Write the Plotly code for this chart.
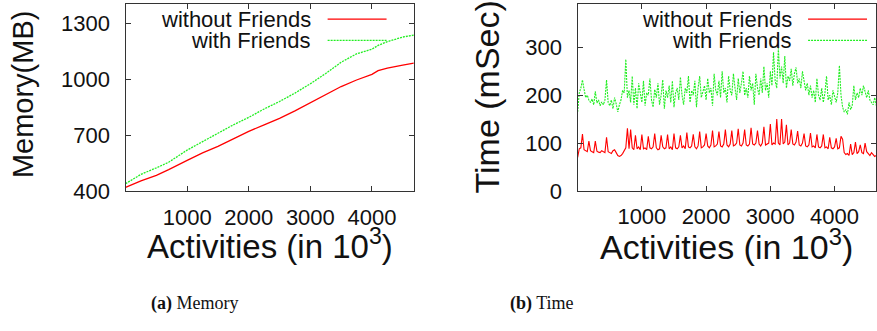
import plotly.graph_objects as go

W, H = 877, 331

# ---------------- data ----------------
mem_activities = [0, 250, 500, 700, 1000, 1250, 1500, 1750, 2000, 2250, 2500,
                  2750, 3000, 3250, 3500, 3750, 4000, 4100, 4250, 4500, 4680]
mem_without = [420, 455, 485, 515, 565, 605, 640, 680, 720, 755, 790,
               830, 872, 915, 960, 995, 1025, 1045, 1058, 1075, 1085]
mem_with = [440, 490, 525, 555, 620, 665, 710, 755, 795, 840, 880,
            925, 975, 1030, 1090, 1135, 1160, 1180, 1200, 1225, 1235]

time_step = 25
time_without = [
    70, 88, 90, 119, 86, 84, 82, 104,
    84, 82, 80, 104, 83, 81, 80, 84,
    82, 80, 112, 82, 80, 78, 84, 86,
    80, 74, 72, 74, 78, 84, 90, 131,
    88, 128, 90, 86, 116, 88, 92, 86,
    118, 88, 90, 86, 114, 90, 88, 92,
    120, 90, 86, 88, 116, 92, 88, 90,
    118, 88, 92, 86, 120, 90, 88, 92,
    116, 90, 94, 88, 122, 92, 90, 94,
    118, 92, 88, 94, 124, 90, 92, 96,
    120, 94, 90, 96, 126, 92, 94, 98,
    124, 94, 92, 98, 128, 96, 92, 98,
    126, 94, 96, 100, 130, 96, 94, 100,
    128, 96, 94, 98, 132, 98, 96, 100,
    126, 98, 94, 100, 134, 96, 98, 100,
    140, 96, 100, 98, 150, 100, 96, 150,
    98, 102, 138, 96, 100, 128, 98, 96,
    102, 125, 96, 94, 100, 120, 94, 92,
    96, 121, 92, 94, 90, 118, 92, 90,
    94, 118, 90, 92, 88, 112, 90, 88,
    92, 110, 88, 90, 114, 108, 80, 76,
    78, 74, 98, 76, 80, 102, 78, 82,
    96, 80, 78, 100, 82, 78, 74, 80,
    76, 72, 74,
]
time_with = [
    165, 205, 215, 232, 212, 195, 200, 190,
    185, 192, 180, 208, 184, 190, 178, 186,
    180, 190, 232, 185, 178, 190, 172, 195,
    182, 165, 180, 190, 210, 205, 275, 195,
    210, 185, 240, 180, 215, 172, 225, 200,
    185, 230, 178, 205, 200, 235, 190, 175,
    212, 195, 225, 180, 200, 232, 172, 210,
    195, 220, 185, 230, 175, 205, 215, 190,
    238, 200, 180, 215, 205, 240, 185, 210,
    200, 230, 175, 215, 240, 195, 210, 220,
    190, 235, 205, 215, 178, 245, 210, 200,
    230, 195, 250, 205, 215, 185, 240, 210,
    200, 245, 215, 190, 235, 205, 225, 250,
    200, 215, 195, 240, 210, 225, 180, 245,
    215, 200, 235, 205, 260, 210, 225, 195,
    250, 220, 290, 230, 215, 298, 235, 260,
    225, 282, 215, 240, 230, 255, 220, 245,
    258, 225, 235, 215, 250, 230, 210, 225,
    200, 220, 195, 210, 185, 235, 200, 190,
    215, 185, 205, 240, 190, 200, 180, 210,
    195, 185, 205, 262, 200, 175, 165, 170,
    160, 185, 170, 178, 220, 190, 205, 195,
    215, 200, 220, 205, 195, 210, 190, 185,
    180, 195, 178,
]
time_activities = [i * time_step for i in range(len(time_without))]

series_names = ["without Friends", "with Friends"]
mem_yticks = [400, 700, 1000, 1300]
time_yticks = [0, 100, 200, 300]
x_ticks = [1000, 2000, 3000, 4000]
x_title = "Activities (in 10<sup>3</sup>)"
captions = ["<b>(a)</b> Memory", "<b>(b)</b> Time"]

# ---------------- styling ----------------
RED = "#ff0000"
GREEN = "#22ee22"
FRAME = "#333333"
SANS = "Liberation Sans, Arial, sans-serif"
SERIF = "Liberation Serif, Times New Roman, serif"


def px(x):
    return x / W


def py(y):
    return 1 - y / H


fig = go.Figure()
fig.add_trace(go.Scatter(x=mem_activities, y=mem_without, mode="lines",
                         line=dict(color=RED, width=1.3), xaxis="x", yaxis="y",
                         showlegend=False))
fig.add_trace(go.Scatter(x=mem_activities, y=mem_with, mode="lines",
                         line=dict(color=GREEN, width=1.3, dash="2px,1px"),
                         xaxis="x", yaxis="y", showlegend=False))
fig.add_trace(go.Scatter(x=time_activities, y=time_without, mode="lines",
                         line=dict(color=RED, width=1.1), xaxis="x2", yaxis="y2",
                         showlegend=False))
fig.add_trace(go.Scatter(x=time_activities, y=time_with, mode="lines",
                         line=dict(color=GREEN, width=1.1, dash="2px,1px"),
                         xaxis="x2", yaxis="y2", showlegend=False))

axis_common = dict(showline=True, linecolor=FRAME, linewidth=1.3, mirror="allticks",
                   ticks="inside", ticklen=5, tickwidth=1, tickcolor=FRAME,
                   showgrid=False, zeroline=False,
                   tickfont=dict(family=SANS, size=22, color="#111111"))

fig.update_layout(
    width=W, height=H,
    margin=dict(l=0, r=0, t=0, b=0),
    paper_bgcolor="white", plot_bgcolor="white",
    xaxis=dict(domain=[px(125.7), px(414.3)], range=[0, 4680], tickvals=x_ticks,
               anchor="y", ticklabelstandoff=6, **axis_common),
    yaxis=dict(domain=[py(199), py(4.5)], range=[400, 1400], tickvals=mem_yticks,
               anchor="x", ticklabelstandoff=10, **axis_common),
    xaxis2=dict(domain=[px(578.3), 1.0], range=[0, 4645], tickvals=x_ticks,
                anchor="y2", ticklabelstandoff=6, **axis_common),
    yaxis2=dict(domain=[py(198.7), py(4.5)], range=[0, 390], tickvals=time_yticks,
                anchor="x2", ticklabelstandoff=10, **axis_common),
)

annotations = []
# axis titles
annotations.append(dict(text=x_title, x=px(270), y=py(254), xref="paper", yref="paper",
                        showarrow=False, xanchor="center", yanchor="middle",
                        font=dict(family=SANS, size=33, color="#111111")))
annotations.append(dict(text=x_title, x=px(727), y=py(254), xref="paper", yref="paper",
                        showarrow=False, xanchor="center", yanchor="middle",
                        font=dict(family=SANS, size=34, color="#111111")))
annotations.append(dict(text="Memory(MB)", x=px(23), y=py(98), xref="paper", yref="paper",
                        showarrow=False, xanchor="center", yanchor="middle", textangle=-90,
                        font=dict(family=SANS, size=29, color="#111111")))
annotations.append(dict(text="Time (mSec)", x=px(488), y=py(101), xref="paper", yref="paper",
                        showarrow=False, xanchor="center", yanchor="middle", textangle=-90,
                        font=dict(family=SANS, size=34, color="#111111")))
# captions
annotations.append(dict(text=captions[0], x=px(195), y=py(316), xref="paper", yref="paper",
                        showarrow=False, xanchor="center", yanchor="middle",
                        font=dict(family=SERIF, size=18, color="#111111")))
annotations.append(dict(text=captions[1], x=px(543), y=py(316), xref="paper", yref="paper",
                        showarrow=False, xanchor="center", yanchor="middle",
                        font=dict(family=SERIF, size=18, color="#111111")))

# legends (text right aligned, key line to the right)
shapes = []
legend_specs = [(313, 328, 387), (795, 809, 868)]
for text_right, k0, k1 in legend_specs:
    for row, (name, color, dash) in enumerate(zip(series_names, [RED, GREEN],
                                                  ["solid", "2px,1px"])):
        yrow = 20 + row * 22
        annotations.append(dict(text=name, x=px(text_right), y=py(yrow), xref="paper",
                                yref="paper", showarrow=False, xanchor="right",
                                yanchor="middle", height=20,
                                font=dict(family=SANS, size=22, color="#111111")))
        shapes.append(dict(type="line", xref="paper", yref="paper",
                           x0=px(k0), x1=px(k1), y0=py(yrow), y1=py(yrow),
                           line=dict(color=color, width=1.3, dash=dash)))

fig.update_layout(annotations=annotations, shapes=shapes)
fig.write_html("out.html")
